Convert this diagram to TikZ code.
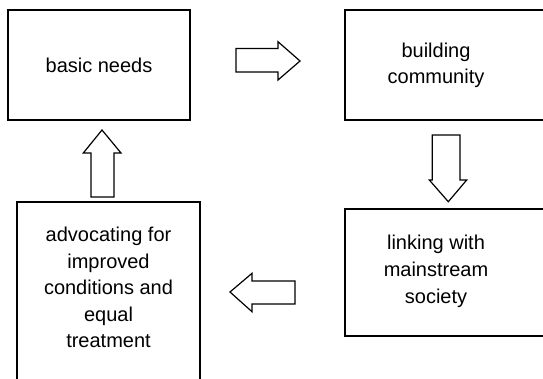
\documentclass[tikz,border=0pt]{standalone}
\usepackage{fontspec}
\setmainfont{Liberation Sans}
\begin{document}
\begin{tikzpicture}[x=1bp,y=-1bp,
  box/.style={draw=black,line width=1.7bp,fill=white,inner sep=0pt},
  lbl/.style={align=center,inner sep=0pt,font=\fontsize{20bp}{26.6bp}\selectfont,text=black},
  blockarrow/.style={draw=black,line width=1.2bp,fill=white,line join=miter}]
\useasboundingbox (0,0) rectangle (543,378);
\begin{scope}
\clip (0,0) rectangle (543,378);
% boxes
\node[box,minimum width=182bp,minimum height=110bp] (basic) at (99,65) {};
\node[box,minimum width=215bp,minimum height=110bp] (build) at (452.5,65) {};
\node[box,minimum width=215bp,minimum height=127bp] (link) at (452.5,272.5) {};
\node[box,minimum width=183bp,minimum height=200bp] (advo) at (108.5,302) {};
% texts
\node[lbl] (tbasic) at (99,65.4) {basic needs};
\node[lbl] (tbuild) at (436,65.5) {building\\community};
\node[lbl] (tlink) at (436,271.3) {linking with\\mainstream\\society};
\node[lbl] (tadvo) at (108.5,287.5) {advocating for\\improved\\conditions and\\equal\\treatment};
% block arrows
\draw[blockarrow] (236,48.5) -- (278,48.5) -- (278,41.7) -- (300,61) -- (278,80) -- (278,72) -- (236,72) -- cycle;
\draw[blockarrow] (432.3,135) -- (460,135) -- (460,180) -- (466.7,180) -- (448.3,201.7) -- (429.3,180) -- (432.3,180) -- cycle;
\draw[blockarrow] (295,281) -- (252,281) -- (252,273.3) -- (230,292) -- (252,311.7) -- (252,304) -- (295,304) -- cycle;
\draw[blockarrow] (91,197) -- (91,153) -- (83.3,153) -- (102,130) -- (121,153) -- (114,153) -- (114,197) -- cycle;
\end{scope}
\end{tikzpicture}
\end{document}
